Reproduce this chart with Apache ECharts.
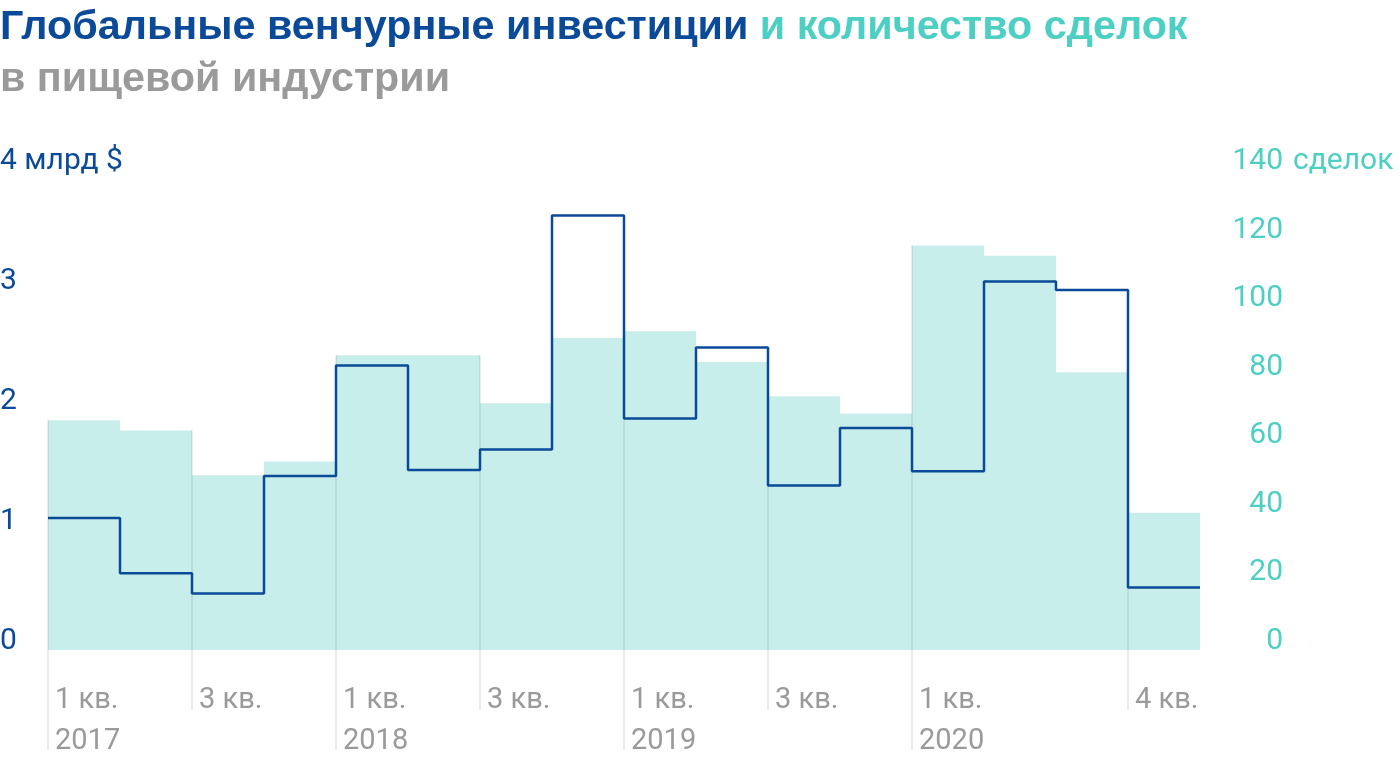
<!DOCTYPE html>
<html><head><meta charset="utf-8">
<script src="https://cdn.jsdelivr.net/npm/echarts@6/dist/echarts.min.js"></script>
<style>html,body{margin:0;padding:0;background:#fff}#c{width:1400px;height:760px}</style>
</head><body><div id="c"></div>
<script>
const quarters = ['1 кв. 2017','2 кв. 2017','3 кв. 2017','4 кв. 2017','1 кв. 2018','2 кв. 2018','3 кв. 2018','4 кв. 2018','1 кв. 2019','2 кв. 2019','3 кв. 2019','4 кв. 2019','1 кв. 2020','2 кв. 2020','3 кв. 2020','4 кв. 2020'];
const tickLabels = ['1 кв.\n2017','','3 кв.','','1 кв.\n2018','','3 кв.','','1 кв.\n2019','','3 кв.','','1 кв.\n2020','','','4 кв.'];
const deals = [67,64,51,55,86,86,72,91,93,84,74,69,118,115,81,40];
const investments = [1.10,0.64,0.47,1.45,2.37,1.50,1.67,3.62,1.93,2.52,1.37,1.85,1.49,3.07,3.00,0.52];
const leftUnit = ' млрд $';
const rightUnit = 'сделок';

const FONT = 'Roboto, "Noto Sans", sans-serif';
const TFONT = '"Liberation Sans", Arial, sans-serif';
const BLUE = '#0b4a98';
const TEAL = '#4ecfc3';
const GRAY = '#9a9a9a';
const BAR = '#c8eeeb';

const chart = echarts.init(document.getElementById('c'), null, {renderer: 'canvas'});

const tickData = [];
tickLabels.forEach((t, k) => {
  if (t) tickData.push([k, Math.max(k > 0 ? deals[k - 1] : 0, deals[k]), t.indexOf('\n') >= 0 ? 1 : 0]);
});

const lineData = investments.map((v, i) => [i, v]);
lineData.push([investments.length, investments[investments.length - 1]]);

chart.setOption({
  animation: false,
  backgroundColor: '#fff',
  title: {
    left: 0, top: 2, padding: 0,
    text: '{a|Глобальные венчурные инвестиции}{b| и количество сделок}\n{c|в пищевой индустрии}',
    textStyle: {
      rich: {
        a: {fontFamily: TFONT, fontSize: 41.3, fontWeight: 'bold', color: BLUE, lineHeight: 52},
        b: {fontFamily: TFONT, fontSize: 41.3, fontWeight: 'bold', color: TEAL, lineHeight: 52},
        c: {fontFamily: TFONT, fontSize: 41.3, fontWeight: 'bold', color: GRAY, lineHeight: 52}
      }
    }
  },
  grid: {left: 48, right: 200, top: 170, bottom: 110, containLabel: false, outerBoundsMode: 'none'},
  xAxis: [
    {type: 'category', data: quarters, show: false, boundaryGap: true},
    {
      type: 'value', min: 0, max: quarters.length, interval: 1, position: 'bottom',
      axisLine: {show: false}, axisTick: {show: false}, splitLine: {show: false},
      axisLabel: {
        show: true, showMaxLabel: true, showMinLabel: true,
        formatter: v => tickLabels[v] || '',
        align: 'left', padding: [0, 0, 0, 7], margin: 30,
        color: GRAY, fontFamily: FONT, fontSize: 29, lineHeight: 41
      }
    }
  ],
  yAxis: [
    {
      type: 'value', min: 0, max: 4, interval: 1, position: 'left',
      axisLine: {show: false}, axisTick: {show: false}, splitLine: {show: false},
      axisLabel: {
        formatter: v => v === 4 ? v + leftUnit : String(v),
        align: 'left', margin: 48, verticalAlign: 'bottom', lineHeight: 17,
        color: BLUE, fontFamily: FONT, fontSize: 30
      }
    },
    {
      type: 'value', min: 0, max: 140, interval: 20, position: 'right',
      axisLine: {show: false}, axisTick: {show: false}, splitLine: {show: false},
      name: rightUnit, nameLocation: 'end', nameGap: 9,
      nameTextStyle: {align: 'left', verticalAlign: 'middle', padding: [0, 0, 0, 93], color: TEAL, fontFamily: FONT, fontSize: 30},
      axisLabel: {
        align: 'right', margin: 83, verticalAlign: 'bottom', lineHeight: 17,
        color: TEAL, fontFamily: FONT, fontSize: 30
      }
    }
  ],
  series: [
    {
      type: 'bar', xAxisIndex: 0, yAxisIndex: 1, data: deals,
      barWidth: '100%', barGap: '0%',
      itemStyle: {color: BAR, borderColor: BAR, borderWidth: 1.5}, z: 1, silent: true
    },
    {
      type: 'custom', xAxisIndex: 1, yAxisIndex: 1, data: tickData, clip: false, z: 2, silent: true,
      encode: {x: 0, y: 1},
      renderItem: (params, api) => {
        const k = api.value(0), top = api.value(1), yr = api.value(2);
        const p = api.coord([k, top]);
        const b = api.coord([k, 0]);
        return {
          type: 'line',
          shape: {x1: p[0], y1: p[1], x2: p[0], y2: b[1] + (yr ? 100 : 60)},
          style: {stroke: 'rgba(0,0,0,0.1)', lineWidth: 1.5}
        };
      }
    },
    {
      type: 'line', xAxisIndex: 1, yAxisIndex: 0, data: lineData, step: 'end',
      symbol: 'none', lineStyle: {color: BLUE, width: 2.5}, z: 3, silent: true
    }
  ]
});
</script>
</body></html>
